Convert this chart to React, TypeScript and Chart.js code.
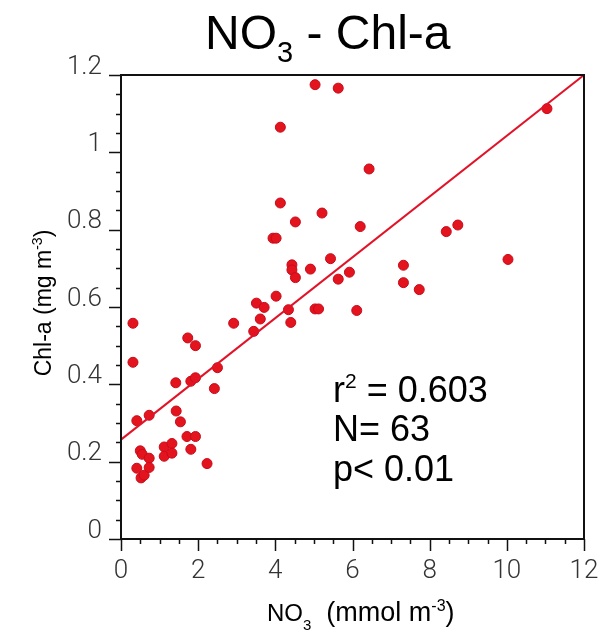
import React, { useEffect, useRef } from "react";
import { Chart, registerables } from "chart.js";

Chart.register(...registerables);

// NO3 (mmol m-3)
const no3 = [
  0.31, 0.31, 0.41, 0.73, 0.5, 0.55, 0.73, 0.41, 0.52, 0.6, 0.73,
  1.12, 1.12, 1.32, 1.32, 1.43, 1.54, 1.42, 1.73, 1.93, 1.81, 1.93,
  1.71, 1.93, 1.81, 2.23, 2.5, 2.42, 2.92, 3.44, 3.61, 3.51, 3.71,
  4.02, 4.34, 4.4, 5.03, 5.12, 6.11, 5.03, 5.63, 4.13, 4.13, 5.21,
  4.52, 3.94, 4.02, 4.43, 4.43, 4.52, 4.91, 5.43, 5.63, 5.92, 6.2,
  11.04, 6.43, 8.43, 8.73, 10.03, 7.32, 7.32, 7.73,
];
// Chl-a (mg m-3)
const chla = [
  0.558, 0.457, 0.306, 0.32, 0.228, 0.219, 0.209, 0.183, 0.158, 0.165, 0.185,
  0.238, 0.214, 0.247, 0.222, 0.331, 0.303, 0.404, 0.52, 0.5, 0.408, 0.417,
  0.265, 0.265, 0.232, 0.195, 0.443, 0.389, 0.558, 0.537, 0.569, 0.61, 0.599,
  0.628, 0.593, 0.56, 0.595, 0.595, 0.591, 1.175, 1.166, 1.065, 0.869, 0.843,
  0.82, 0.778, 0.778, 0.709, 0.696, 0.676, 0.698, 0.725, 0.672, 0.69, 0.808,
  1.113, 0.957, 0.795, 0.812, 0.723, 0.708, 0.663, 0.645,
];
// regression line end points
const fitX = [0, 12];
const fitY = [0.257, 1.2];

const xTickLabels = ["0", "2", "4", "6", "8", "10", "12"];
const yTickLabels = ["0", "0.2", "0.4", "0.6", "0.8", "1", "1.2"];

const statLines = ["= 0.603", "N= 63", "p< 0.01"];

const SANS = '"Liberation Sans", Arial, sans-serif';
const TICKFONT = 'Roboto, "Liberation Sans", sans-serif';

type Run = { t: string; s: number; dy: number };

function runsWidth(ctx: CanvasRenderingContext2D, runs: Run[]) {
  let w = 0;
  for (const r of runs) {
    ctx.font = `${r.s}px ${SANS}`;
    w += ctx.measureText(r.t).width;
  }
  return w;
}
function drawRuns(ctx: CanvasRenderingContext2D, runs: Run[], x: number, y: number) {
  let cx = x;
  for (const r of runs) {
    ctx.font = `${r.s}px ${SANS}`;
    ctx.fillText(r.t, cx, y + r.dy);
    cx += ctx.measureText(r.t).width;
  }
}

const decor = {
  id: "decor",
  afterDraw(chart: any) {
    const ctx: CanvasRenderingContext2D = chart.ctx;
    const a = chart.chartArea;
    const xs = chart.scales.x;
    const ys = chart.scales.y;
    ctx.save();
    ctx.strokeStyle = "#111";
    ctx.lineWidth = 2;
    ctx.strokeRect(a.left, a.top, a.right - a.left, a.bottom - a.top);
    ctx.lineWidth = 1.5;
    ctx.beginPath();
    for (let i = 0; i <= 24; i++) {
      const v = i * 0.5;
      const px = Math.round(xs.getPixelForValue(v)) + 0.5;
      const len = i % 4 === 0 ? 12 : 5;
      ctx.moveTo(px, a.bottom);
      ctx.lineTo(px, a.bottom + len);
    }
    for (let i = 0; i <= 24; i++) {
      const v = i * 0.05;
      const py = Math.round(ys.getPixelForValue(v)) + 0.5;
      const len = i % 4 === 0 ? 12 : 5;
      ctx.moveTo(a.left, py);
      ctx.lineTo(a.left - len, py);
    }
    ctx.stroke();

    ctx.fillStyle = "#000";
    ctx.textBaseline = "alphabetic";
    ctx.textAlign = "left";
    // title
    drawRuns(ctx, [
      { t: "NO", s: 48, dy: 0 },
      { t: "3", s: 29, dy: 13 },
      { t: " - Chl-a", s: 48, dy: 0 },
    ], 205, 49);
    // x title
    drawRuns(ctx, [
      { t: "NO", s: 24, dy: 0 },
      { t: "3", s: 15, dy: 9 },
      { t: "  (mmol m", s: 27, dy: 0 },
      { t: "-3", s: 16, dy: -10 },
      { t: ")", s: 27, dy: 0 },
    ], 267, 621);
    // y title
    const yRuns: Run[] = [
      { t: "Chl-a (mg m", s: 23, dy: 0 },
      { t: "-3", s: 14, dy: -9 },
      { t: ")", s: 23, dy: 0 },
    ];
    ctx.save();
    ctx.translate(51, 303);
    ctx.rotate(-Math.PI / 2);
    drawRuns(ctx, yRuns, -runsWidth(ctx, yRuns) / 2, 0);
    ctx.restore();
    // stats
    drawRuns(ctx, [
      { t: "r", s: 36, dy: 0 },
      { t: "2", s: 21, dy: -14 },
      { t: " " + statLines[0], s: 36, dy: 0 },
    ], 333, 402);
    drawRuns(ctx, [{ t: statLines[1], s: 36, dy: 0 }], 333, 441);
    drawRuns(ctx, [{ t: statLines[2], s: 36, dy: 0 }], 333, 481);
    ctx.restore();
  },
};

export default function App() {
  const ref = useRef<HTMLCanvasElement>(null);
  useEffect(() => {
    if (!ref.current) return;
    const chart = new Chart(ref.current, {
      type: "scatter",
      data: {
        datasets: [
          {
            label: "fit",
            data: fitX.map((x, i) => ({ x, y: fitY[i] })),
            showLine: true,
            borderColor: "rgb(226,18,40)",
            borderWidth: 2,
            pointRadius: 0,
            fill: false,
          },
          {
            label: "obs",
            data: no3.map((x, i) => ({ x, y: chla[i] })),
            backgroundColor: "rgb(228,20,30)",
            borderColor: "rgb(200,10,25)",
            borderWidth: 1,
            pointRadius: 5,
          },
        ],
      },
      options: {
        animation: false,
        responsive: false,
        layout: { padding: { top: 75, right: 24, left: 0, bottom: 0 } },
        plugins: { legend: { display: false }, tooltip: { enabled: false }, title: { display: false } },
        scales: {
          x: {
            type: "linear",
            min: 0,
            max: 12,
            grid: { display: false, drawTicks: false },
            border: { display: false },
            afterFit: (s: any) => {
              s.height = 94;
              s.paddingLeft = 0;
              s.paddingRight = 0;
            },
            ticks: {
              stepSize: 2,
              padding: 17,
              color: "#333",
              font: { family: TICKFONT, size: 26, weight: "300" },
              maxRotation: 0,
              callback: (_v: any, i: number) => xTickLabels[i],
            },
          },
          y: {
            type: "linear",
            min: 0,
            max: 1.2,
            grid: { display: false, drawTicks: false },
            border: { display: false },
            afterFit: (s: any) => {
              s.width = 121;
              s.paddingTop = 0;
              s.paddingBottom = 0;
            },
            ticks: {
              stepSize: 0.2,
              padding: 19,
              labelOffset: -8,
              color: "#333",
              font: { family: TICKFONT, size: 26, weight: "300" },
              callback: (_v: any, i: number) => yTickLabels[i],
            },
          },
        },
      },
      plugins: [decor],
    });
    return () => chart.destroy();
  }, []);
  return (
    <div style={{ position: "absolute", left: 0, top: 0, width: 608, height: 633, background: "#fff" }}>
      <canvas ref={ref} width={608} height={633} />
    </div>
  );
}
